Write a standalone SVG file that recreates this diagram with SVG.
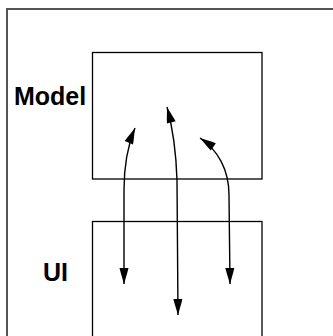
<svg xmlns="http://www.w3.org/2000/svg" width="333" height="336" viewBox="0 0 333 336">
<style>
.box{fill:none;stroke:#000;stroke-width:1.3}
.lbl{font-family:"Liberation Sans",Arial,sans-serif;font-weight:bold;font-size:25px;fill:#000}
.conn{fill:none;stroke:#000;stroke-width:1.4;marker-start:url(#ah);marker-end:url(#ah)}
</style>
<defs>
<marker id="ah" markerUnits="userSpaceOnUse" markerWidth="18" markerHeight="12" refX="16" refY="5.5" orient="auto-start-reverse" overflow="visible">
<path d="M0,1 L4,2 L16,5.5 L4,9 L0,10 z" fill="#000"/>
</marker>
</defs>
<rect x="0" y="0" width="333" height="336" fill="#fff"/>
<rect x="7" y="9" width="400" height="400" fill="none" stroke="#555" stroke-width="2"/>
<g id="model">
<rect class="box" x="92.5" y="52.5" width="169.5" height="126.5"/>
<text class="lbl" x="14" y="104.5">Model</text>
</g>
<g id="ui">
<rect class="box" x="92.5" y="221.5" width="169.5" height="130"/>
<text class="lbl" x="43" y="281">UI</text>
</g>
<g id="connectors">
<path class="conn" d="M124,284 L124,190 C124,160 130,140 135,128"/>
<path class="conn" d="M178,315 L177,180 C176,150 172,125 167,107"/>
<path class="conn" d="M230,284 L229,195 C229,170 218,150 200,138"/>
</g>
</svg>
